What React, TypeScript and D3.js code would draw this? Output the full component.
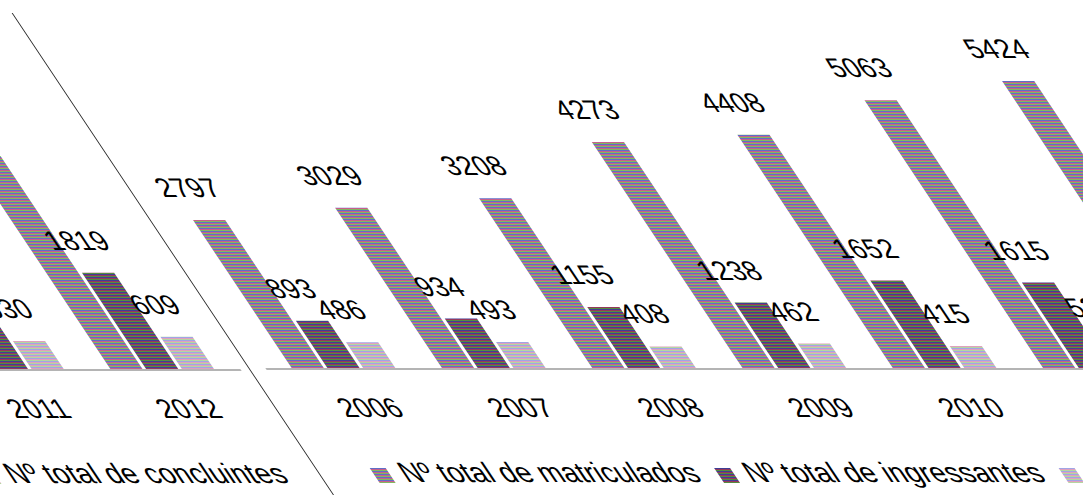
import { useEffect, useRef } from "react";
import * as d3 from "d3";

const YEARS = ["2006", "2007", "2008", "2009", "2010", "2011", "2012"];
const MATRICULADOS = [2797, 3029, 3208, 4273, 4408, 5063, 5424];
const INGRESSANTES = [893, 934, 1155, 1238, 1652, 1615, 1819];
const CONCLUINTES = [486, 493, 408, 462, 415, 530, 609];
const SERIES_NAMES = [
  "Nº total de matriculados",
  "Nº total de ingressantes",
  "Nº total de concluintes",
];
// the three colour rows each bar breaks into
const SERIES_ROWS = [
  ["rgb(95,110,200)", "rgb(200,95,140)", "rgb(130,185,95)"],
  ["rgb(62,62,150)", "rgb(150,55,92)", "rgb(85,140,62)"],
  ["rgb(160,165,230)", "rgb(225,160,190)", "rgb(180,215,160)"],
];

const W = 1083;
const H = 495;
// every row of the picture slides 2/3 px to the right and wraps round
const SHEAR = 2 / 3;

export default function App() {
  const svgRef = useRef<SVGSVGElement>(null);

  useEffect(() => {
    if (!svgRef.current) return;
    const svg = d3.select(svgRef.current);
    svg.selectAll("*").remove();

    const defs = svg.append("defs");
    SERIES_ROWS.forEach((rows, i) => {
      const grad = defs
        .append("linearGradient")
        .attr("id", `stripe${i}`)
        .attr("gradientUnits", "userSpaceOnUse")
        .attr("x1", 0)
        .attr("y1", 0)
        .attr("x2", 0)
        .attr("y2", 3)
        .attr("spreadMethod", "repeat");
      rows.forEach((c, r) => {
        grad.append("stop").attr("offset", r / 3).attr("stop-color", c);
        grad.append("stop").attr("offset", (r + 1) / 3).attr("stop-color", c);
      });
    });

    const g = svg
      .append("g")
      .attr("id", "chart")
      .attr("transform", `matrix(1 0 ${SHEAR} 1 0 0)`);

    const font = "'Liberation Sans', Arial, sans-serif";
    const baseline = 368;

    const x0 = d3
      .scaleBand()
      .domain(YEARS)
      .range([20, 1078])
      .paddingInner(0.31)
      .paddingOuter(0.175);
    const x1 = d3
      .scaleBand()
      .domain(["0", "1", "2"])
      .range([0, x0.bandwidth()])
      .paddingInner(0.1);
    const y = d3.scaleLinear().domain([0, 6000]).range([baseline, 50.6]);

    const series = [MATRICULADOS, INGRESSANTES, CONCLUINTES];

    // chart border seen as the diagonal
    g.append("line")
      .attr("x1", 3.5)
      .attr("x2", 3.5)
      .attr("y1", 13)
      .attr("y2", H + 2)
      .attr("stroke", "#222")
      .attr("stroke-width", 1);

    series.forEach((vals, si) => {
      const sg = g.append("g");
      sg.selectAll("rect")
        .data(vals)
        .join("rect")
        .attr("x", (_, i) => (x0(YEARS[i]) ?? 0) + (x1(String(si)) ?? 0))
        .attr("y", (d) => y(d))
        .attr("width", x1.bandwidth())
        .attr("height", (d) => baseline - y(d))
        .attr("fill", `url(#stripe${si})`);

      sg.selectAll("text")
        .data(vals)
        .join("text")
        .attr(
          "x",
          (_, i) =>
            (x0(YEARS[i]) ?? 0) + (x1(String(si)) ?? 0) + x1.bandwidth() / 2,
        )
        .attr("y", (d) => y(d) - 23)
        .attr("text-anchor", "middle")
        .attr("font-family", font)
        .attr("font-size", 27)
        .attr("fill", "#000")
        .text((d) => String(d));
    });

    // category axis
    g.append("line")
      .attr("x1", 20)
      .attr("x2", 1078)
      .attr("y1", baseline + 1)
      .attr("y2", baseline + 1)
      .attr("stroke", "#b4b4b4")
      .attr("stroke-width", 2);

    g.append("g")
      .selectAll("text")
      .data(YEARS)
      .join("text")
      .attr("x", (d) => (x0(d) ?? 0) + x0.bandwidth() / 2)
      .attr("y", 417)
      .attr("text-anchor", "middle")
      .attr("font-family", font)
      .attr("font-size", 27)
      .attr("fill", "#000")
      .text((d) => d);

    // legend
    const lg = g.append("g");
    const items = SERIES_NAMES.map((name, i) => {
      const t = lg
        .append("text")
        .attr("y", 482)
        .attr("font-family", font)
        .attr("font-size", 28)
        .attr("fill", "#000")
        .text(name);
      const len = (t.node() as SVGTextElement).getComputedTextLength();
      const m = lg
        .append("rect")
        .attr("y", 468)
        .attr("width", 16)
        .attr("height", 15)
        .attr("fill", `url(#stripe${i})`);
      return { t, m, len };
    });
    const markerW = 16;
    const markerGap = 12;
    const itemGap = 20;
    const total =
      d3.sum(items, (d) => markerW + markerGap + d.len) +
      itemGap * (items.length - 1);
    let cx = 555 - total / 2;
    items.forEach((it) => {
      it.m.attr("x", cx);
      it.t.attr("x", cx + markerW + markerGap);
      cx += markerW + markerGap + it.len + itemGap;
    });

    // wrapped part of the rows
    svg
      .append("use")
      .attr("href", "#chart")
      .attr("transform", `translate(${-W},1)`);
  }, []);

  return (
    <svg
      ref={svgRef}
      width={W}
      height={H}
      style={{ position: "absolute", left: 0, top: 0, background: "#fff" }}
    />
  );
}
